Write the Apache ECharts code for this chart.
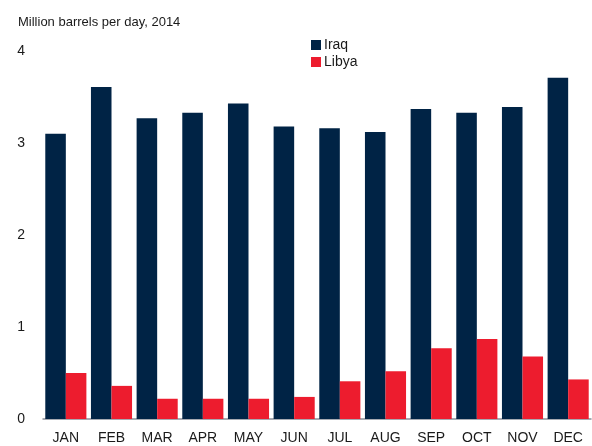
<!DOCTYPE html>
<html>
<head>
<meta charset="utf-8">
<script src="https://cdn.jsdelivr.net/npm/echarts@6/dist/echarts.min.js"></script>
<style>
  html, body { margin: 0; padding: 0; background: #fff; }
  #chart { width: 592px; height: 446px; }
</style>
</head>
<body>
<div id="chart"></div>
<script>
const months = ['JAN', 'FEB', 'MAR', 'APR', 'MAY', 'JUN', 'JUL', 'AUG', 'SEP', 'OCT', 'NOV', 'DEC'];
const iraq = [3.10, 3.61, 3.27, 3.33, 3.43, 3.18, 3.16, 3.12, 3.37, 3.33, 3.39, 3.71];
const libya = [0.50, 0.36, 0.22, 0.22, 0.22, 0.24, 0.41, 0.52, 0.77, 0.87, 0.68, 0.43];
const yTicks = [0, 1, 2, 3, 4];

const chart = echarts.init(document.getElementById('chart'));

const font = 'Liberation Sans, Arial, sans-serif';

let option = {
  animation: false,
  textStyle: { fontFamily: font },
  title: {
    text: 'Million barrels per day, 2014',
    left: 13,
    top: 11,
    textStyle: { fontSize: 13, fontWeight: 'normal', color: '#1a1a1a', fontFamily: font }
  },
  legend: {
    orient: 'vertical',
    left: 306,
    top: 33,
    itemWidth: 10,
    itemHeight: 10,
    itemGap: 3,
    icon: 'rect',
    textStyle: { fontSize: 14, color: '#1a1a1a', padding: [0, 0, 0, -2] },
    data: ['Iraq', 'Libya']
  },
  grid: { left: 43, right: 1, top: 51, bottom: 27 },
  xAxis: {
    type: 'category',
    data: months,
    axisLine: { lineStyle: { color: '#8a8f99', width: 1.5 } },
    axisTick: { show: false },
    axisLabel: { fontSize: 14, color: '#1a1a1a', margin: 12 }
  },
  yAxis: {
    type: 'value',
    min: yTicks[0],
    max: yTicks[yTicks.length - 1],
    interval: 1,
    splitLine: { show: false },
    axisLine: { show: false },
    axisTick: { show: false },
    axisLabel: { fontSize: 14, color: '#1a1a1a', margin: 18 }
  },
  series: [
    {
      name: 'Iraq',
      type: 'bar',
      data: iraq,
      barGap: '0%',
      barCategoryGap: '10%',
      itemStyle: { color: '#002345' }
    },
    {
      name: 'Libya',
      type: 'bar',
      data: libya,
      itemStyle: { color: '#ED1C2E' }
    }
  ]
};

chart.setOption(option);
</script>
</body>
</html>
